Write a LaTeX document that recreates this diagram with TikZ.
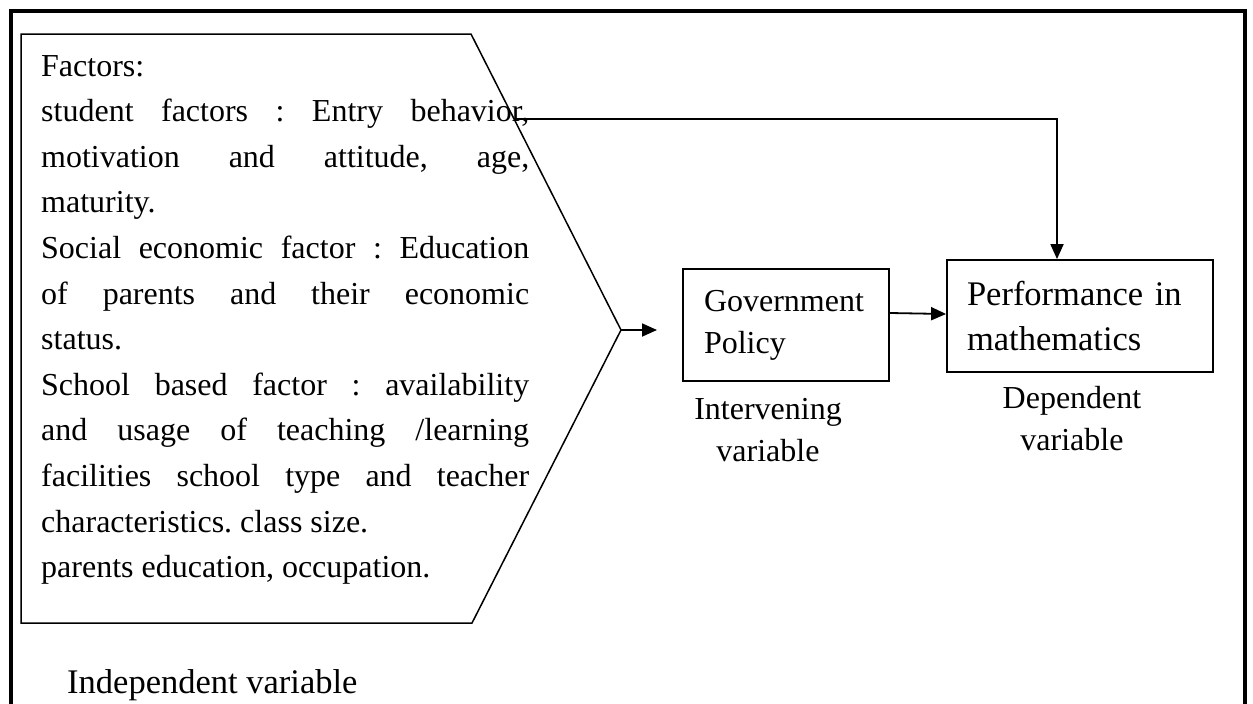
\documentclass[tikz,border=0pt]{standalone}
\usepackage{fontspec}
\setmainfont{Liberation Serif}
\usetikzlibrary{arrows.meta}
\frenchspacing
% a line stretched to the full measure, spaces widened evenly
\newcommand\fullline[1]{\makebox[\linewidth][s]{#1}\par}
\begin{document}
\begin{tikzpicture}[x=1pt,y=-1pt,
  frame/.style={line width=4pt},
  chevron/.style={line width=1.5pt, line join=miter},
  varbox/.style={draw, line width=1.8pt, align=left, inner ysep=0pt},
  caption/.style={align=center, inner sep=0pt, font=\fontsize{32pt}{42pt}\selectfont},
  arr/.style={line width=1.8pt, -{Triangle[length=15pt,width=13pt]}}
]
\useasboundingbox (0,0) rectangle (1253,704);

% outer frame, open at the bottom
\draw[frame] (10.8,710) -- (10.8,10.5) -- (1245.3,10.5) -- (1245.3,710);

% independent-variable block: a pentagon pointing right
\coordinate (ptl) at (21,34);
\coordinate (ptr) at (471,34);
\coordinate (tip) at (621,330);
\coordinate (pbr) at (472,623);
\coordinate (pbl) at (21,623);
\draw[chevron] (ptl) -- (ptr) -- (tip) -- (pbr) -- (pbl) -- cycle;

\node[anchor=base west, inner sep=0pt] (factors) at (41,76) {%
  \begin{minipage}[t]{488pt}
  \fontsize{32pt}{45.6pt}\selectfont\parindent=0pt
  Factors:\par
  \fullline{student factors : Entry behavior,}
  \fullline{motivation and attitude, age,}
  maturity.\par
  \fullline{Social economic factor : Education}
  \fullline{of parents and their economic}
  status.\par
  \fullline{School based factor : availability}
  \fullline{and usage of teaching /learning}
  \fullline{facilities school type and teacher}
  characteristics. class size.\par
  parents education, occupation.\par
  \end{minipage}};

\node[anchor=base west, inner sep=0pt, font=\fontsize{34.5pt}{40pt}\selectfont]
  (indep) at (67,693) {Independent variable};

% intervening and dependent variables
\node[varbox, minimum width=206pt, minimum height=112pt, text width=164pt,
  inner xsep=21pt, font=\fontsize{32pt}{42pt}\selectfont]
  (gov) at (786,325) {Government\\Policy};
\node[varbox, minimum width=266pt, minimum height=112pt, text width=226pt,
  inner xsep=20pt, font=\fontsize{34.5pt}{45pt}\selectfont]
  (perf) at (1080,316) {Performance in\\mathematics};

\node[caption] (intlab) at (768,430.4) {Intervening\\variable};
\node[caption] (deplab) at (1072,418.4) {Dependent\\variable};

% connectors
\coordinate (govin) at (657,330);
\coordinate (topout) at (515,119);
\draw[arr] (tip) -- (govin);
\draw[arr] ([yshift=12pt]gov.east) -- ([yshift=2pt]perf.west);
\draw[arr] (topout) -| ([xshift=-23pt]perf.north);
\end{tikzpicture}
\end{document}
